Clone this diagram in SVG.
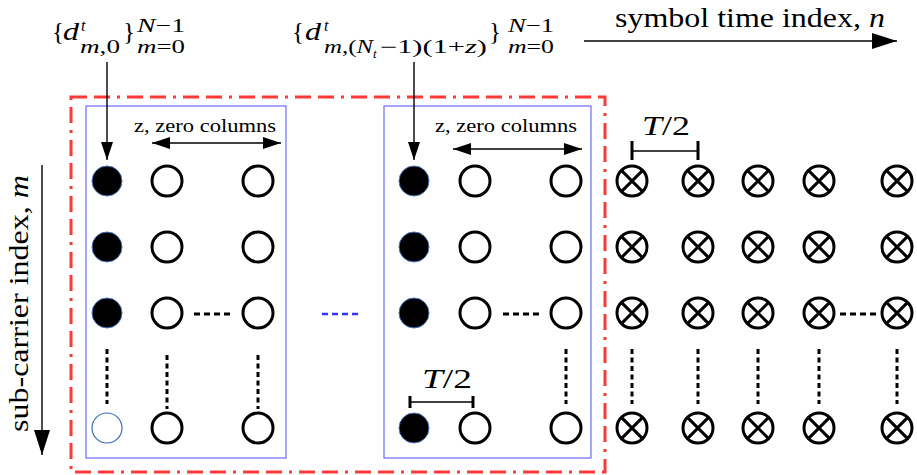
<svg xmlns="http://www.w3.org/2000/svg" width="917" height="475" viewBox="0 0 917 475">
<style>
.it{font-style:italic}
.o{fill:#fff;stroke:#000;stroke-width:3}
.f{fill:#000;stroke:#4a74b8;stroke-width:1}
.h{fill:#fff;stroke:#3d6cb0;stroke-width:1.2}
.x{stroke:#000;stroke-width:3}
.vd{stroke:#000;stroke-width:3;stroke-dasharray:5 3.5}
.hd{stroke:#000;stroke-width:3;stroke-dasharray:6 4}
.ln{stroke:#000;stroke-width:1.4;fill:none}
.tk{stroke:#000;stroke-width:3}
</style>
<defs>
<marker id="ah" markerUnits="userSpaceOnUse" markerWidth="18" markerHeight="12" refX="18" refY="6" orient="auto-start-reverse">
<path d="M0,0 L18,6 L0,12 z" fill="#000"/>
</marker>
<marker id="ahb" markerUnits="userSpaceOnUse" markerWidth="25" markerHeight="16" refX="25" refY="8" orient="auto">
<path d="M0,0 L25,8 L0,16 z" fill="#000"/>
</marker>
<g id="oc"><circle r="15" class="o"/></g>
<g id="fc"><circle r="15" class="f"/></g>
<g id="xc"><circle r="15" class="o"/><path d="M-10.6,-10.6 L10.6,10.6 M-10.6,10.6 L10.6,-10.6" class="x"/></g>
</defs>

<g id="frame-red">
<rect x="71" y="97" width="534" height="375" fill="none" stroke="#ff3838" stroke-width="3" stroke-dasharray="16 7 16 7 3 7"/>
</g>
<g id="block-first"><rect x="86" y="106" width="200" height="352" fill="none" stroke="#6b6bff" stroke-width="1.2"/></g>
<g id="block-last"><rect x="384" y="106" width="207" height="352" fill="none" stroke="#6b6bff" stroke-width="1.2"/></g>

<g font-family="Liberation Serif" fill="#000">
<g id="label-first">
<text x="52" y="40" font-size="25">{</text>
<text x="63" y="40" font-size="25" class="it" textLength="16" lengthAdjust="spacingAndGlyphs">d</text>
<text x="81" y="31" font-size="16" class="it">t</text>
<text x="80" y="53" font-size="18" textLength="40" lengthAdjust="spacingAndGlyphs"><tspan class="it">m</tspan>,0</text>
<text x="123" y="40" font-size="25">}</text>
<text x="137" y="32" font-size="19" textLength="48" lengthAdjust="spacingAndGlyphs"><tspan class="it">N</tspan>−1</text>
<text x="137" y="53" font-size="18" textLength="48" lengthAdjust="spacingAndGlyphs"><tspan class="it">m</tspan>=0</text>
</g>
<g id="label-last">
<text x="292" y="40" font-size="25">{</text>
<text x="305" y="40" font-size="25" class="it" textLength="16" lengthAdjust="spacingAndGlyphs">d</text>
<text x="324" y="31" font-size="16" class="it">t</text>
<text x="324" y="53" font-size="18" textLength="49" lengthAdjust="spacingAndGlyphs"><tspan class="it">m</tspan>,(<tspan class="it">N</tspan></text>
<text x="373" y="58" font-size="13" class="it">t</text>
<text x="380" y="53" font-size="18" textLength="107" lengthAdjust="spacingAndGlyphs">−1)(1+<tspan class="it">z</tspan>)</text>
<text x="489" y="40" font-size="25">}</text>
<text x="508" y="32" font-size="19" textLength="46" lengthAdjust="spacingAndGlyphs"><tspan class="it">N</tspan>−1</text>
<text x="508" y="53" font-size="18" textLength="46" lengthAdjust="spacingAndGlyphs"><tspan class="it">m</tspan>=0</text>
</g>
<g id="axis-time">
<text x="615" y="27" font-size="27" textLength="270" lengthAdjust="spacingAndGlyphs">symbol time index, <tspan class="it">n</tspan></text>
</g>
<g id="axis-subcarrier">
<text transform="translate(28,432) rotate(-90)" x="0" y="0" font-size="28" textLength="257" lengthAdjust="spacingAndGlyphs">sub-carrier index, <tspan class="it">m</tspan></text>
</g>
<g id="zero-label-first"><text x="134" y="132" font-size="19" textLength="142" lengthAdjust="spacingAndGlyphs">z, zero columns</text></g>
<g id="zero-label-last"><text x="435" y="132" font-size="19" textLength="142" lengthAdjust="spacingAndGlyphs">z, zero columns</text></g>

<g id="period-top">
<line x1="632" y1="151" x2="698" y2="151" class="ln"/>
<line x1="632" y1="141" x2="632" y2="160" class="tk"/>
<line x1="698" y1="141" x2="698" y2="160" class="tk"/>
<text x="642" y="135" font-size="27" textLength="48" lengthAdjust="spacingAndGlyphs"><tspan class="it">T</tspan>/2</text>
</g>
<g id="period-bottom">
<line x1="410" y1="402" x2="473" y2="402" class="ln"/>
<line x1="410" y1="396" x2="410" y2="408" class="tk"/>
<line x1="473" y1="396" x2="473" y2="408" class="tk"/>
<text x="422" y="388" font-size="27" textLength="50" lengthAdjust="spacingAndGlyphs"><tspan class="it">T</tspan>/2</text>
</g>
</g>

<g id="grid-first">
<use href="#fc" x="107" y="181"/><use href="#oc" x="167" y="181"/><use href="#oc" x="258" y="181"/>
<use href="#fc" x="107" y="247"/><use href="#oc" x="167" y="247"/><use href="#oc" x="258" y="247"/>
<use href="#fc" x="107" y="313"/><use href="#oc" x="167" y="313"/><use href="#oc" x="258" y="313"/>
<circle cx="107" cy="428" r="15" class="h"/><use href="#oc" x="167" y="428"/><use href="#oc" x="258" y="428"/>
</g>
<g id="grid-last">
<use href="#fc" x="414" y="181"/><use href="#oc" x="475" y="181"/><use href="#oc" x="566" y="181"/>
<use href="#fc" x="414" y="247"/><use href="#oc" x="475" y="247"/><use href="#oc" x="566" y="247"/>
<use href="#fc" x="414" y="313"/><use href="#oc" x="475" y="313"/><use href="#oc" x="566" y="313"/>
<use href="#fc" x="414" y="428"/><use href="#oc" x="475" y="428"/><use href="#oc" x="566" y="428"/>
</g>
<g id="grid-data">
<use href="#xc" x="632" y="181"/><use href="#xc" x="698" y="181"/><use href="#xc" x="758" y="181"/><use href="#xc" x="819" y="181"/><use href="#xc" x="897" y="181"/>
<use href="#xc" x="632" y="247"/><use href="#xc" x="698" y="247"/><use href="#xc" x="758" y="247"/><use href="#xc" x="819" y="247"/><use href="#xc" x="897" y="247"/>
<use href="#xc" x="632" y="313"/><use href="#xc" x="698" y="313"/><use href="#xc" x="758" y="313"/><use href="#xc" x="819" y="313"/><use href="#xc" x="897" y="313"/>
<use href="#xc" x="632" y="428"/><use href="#xc" x="698" y="428"/><use href="#xc" x="758" y="428"/><use href="#xc" x="819" y="428"/><use href="#xc" x="897" y="428"/>
</g>

<g id="connectors">
<line x1="107" y1="62" x2="107" y2="160" class="ln" marker-end="url(#ah)"/>
<line x1="414" y1="62" x2="414" y2="160" class="ln" marker-end="url(#ah)"/>
<line x1="152" y1="143" x2="281" y2="143" class="ln" marker-start="url(#ah)" marker-end="url(#ah)"/>
<line x1="453" y1="149" x2="582" y2="149" class="ln" marker-start="url(#ah)" marker-end="url(#ah)"/>
<line x1="584" y1="41" x2="897" y2="41" class="ln" marker-end="url(#ahb)"/>
<line x1="42" y1="165" x2="42" y2="455" class="ln" marker-end="url(#ahb)"/>

<line x1="194" y1="314" x2="232" y2="314" class="hd"/>
<line x1="503" y1="314" x2="539" y2="314" class="hd"/>
<line x1="840" y1="314" x2="878" y2="314" class="hd"/>
<line x1="322" y1="314" x2="359" y2="314" stroke="#3333ff" stroke-width="2.5" stroke-dasharray="6 4"/>

<line x1="107" y1="349" x2="107" y2="404" class="vd"/>
<line x1="167" y1="355" x2="167" y2="409" class="vd"/>
<line x1="258" y1="355" x2="258" y2="409" class="vd"/>
<line x1="566" y1="349" x2="566" y2="404" class="vd"/>
<line x1="632" y1="349" x2="632" y2="404" class="vd"/>
<line x1="698" y1="349" x2="698" y2="404" class="vd"/>
<line x1="758" y1="349" x2="758" y2="404" class="vd"/>
<line x1="819" y1="349" x2="819" y2="404" class="vd"/>
<line x1="897" y1="349" x2="897" y2="404" class="vd"/>
</g>
</svg>
